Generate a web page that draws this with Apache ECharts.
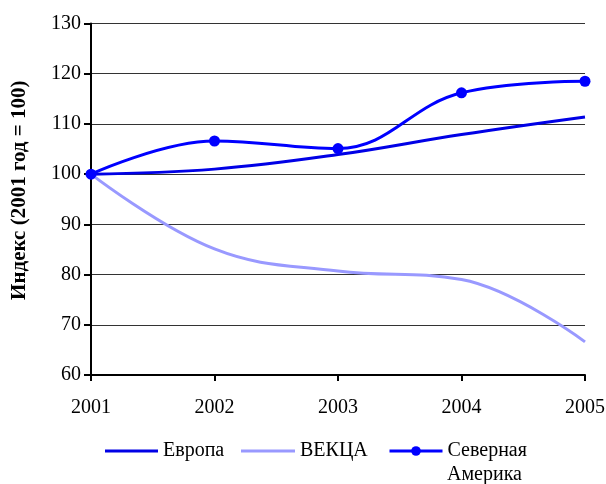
<!DOCTYPE html>
<html><head><meta charset="utf-8">
<script src="https://cdn.jsdelivr.net/npm/echarts@6/dist/echarts.min.js"></script>
<style>html,body{margin:0;padding:0;background:#fff}#c{width:606px;height:484px}</style>
</head><body><div id="c"></div>
<script>
var years = ['2001', '2002', '2003', '2004', '2005'];
var europe = [100, 101.0, 103.9, 107.9, 111.4];
var ekca = [100, 85.1, 80.7, 79.0, 66.6];
var northAmerica = [100, 106.6, 105.1, 116.2, 118.5];
var yTitle = 'Индекс (2001 год = 100)';
var names = ['Европа', 'ВЕКЦА', 'Северная Америка'];
var naLines = ['Северная', 'Америка'];

var font = '"Liberation Serif", "Times New Roman", serif';
var legendText = {fontSize: 20, color: '#000', fontFamily: font};
var chart = echarts.init(document.getElementById('c'), null, {renderer: 'canvas'});
chart.setOption({
  animation: false,
  backgroundColor: '#fff',
  textStyle: {fontFamily: font},
  grid: {left: 91, right: 21, top: 23.5, bottom: 109, containLabel: false, outerBoundsMode: 'none'},
  xAxis: {
    type: 'category', data: years, boundaryGap: false,
    axisLine: {lineStyle: {color: '#000', width: 2}},
    axisTick: {show: true, length: 6, lineStyle: {color: '#000', width: 2}},
    axisLabel: {color: '#000', fontSize: 20, fontFamily: font, margin: 23},
    splitLine: {show: false}
  },
  yAxis: {
    type: 'value', min: 60, max: 130, interval: 10,
    name: yTitle, nameLocation: 'middle', nameGap: 61, nameRotate: 90,
    nameTextStyle: {fontSize: 21, fontWeight: 'bold', color: '#000', fontFamily: font, padding: [0, 0, 0, 18]},
    axisLine: {show: true, lineStyle: {color: '#000', width: 2}},
    axisTick: {show: true, length: 7, lineStyle: {color: '#000', width: 2}},
    axisLabel: {color: '#000', fontSize: 20, fontFamily: font, margin: 10},
    splitLine: {show: true, lineStyle: {color: '#333', width: 1}}
  },
  legend: [
    {left: 105, top: 441, padding: 0, itemWidth: 53, itemHeight: 3, icon: 'rect', textStyle: legendText, data: [names[0]]},
    {left: 241, top: 441, padding: 0, itemWidth: 54, itemHeight: 3, icon: 'rect', textStyle: legendText, data: [names[1]]},
    {left: 388, top: 441, padding: 0, itemWidth: 53, itemHeight: 12, textStyle: legendText, data: [names[2]],
     lineStyle: {width: 3},
     formatter: function () { return naLines[0]; }}
  ],
  graphic: [
    {type: 'text', left: 447, top: 465, style: {text: naLines[1], fontSize: 20, fontFamily: font, fill: '#000'}}
  ],
  series: [
    {name: names[0], type: 'line', data: europe, smooth: 0.4, symbol: 'none',
     lineStyle: {color: '#0000E6', width: 3}, itemStyle: {color: '#0000E6'}, z: 2},
    {name: names[1], type: 'line', data: ekca, smooth: 0.4, symbol: 'none',
     lineStyle: {color: '#9999FF', width: 3}, itemStyle: {color: '#9999FF'}, z: 1},
    {name: names[2], type: 'line', data: northAmerica, smooth: 0.4, symbol: 'circle', symbolSize: 11,
     showSymbol: true,
     lineStyle: {color: '#0000FF', width: 3}, itemStyle: {color: '#0000FF'}, z: 3}
  ]
});
</script></body></html>
